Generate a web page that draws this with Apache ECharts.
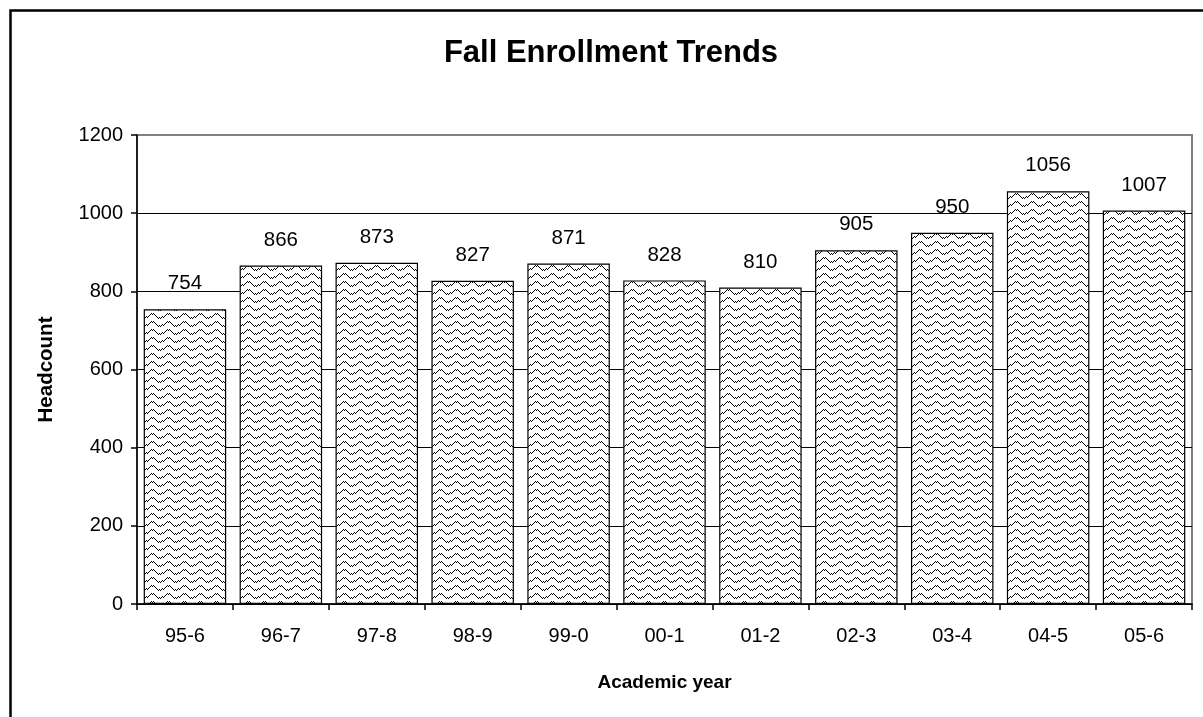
<!DOCTYPE html>
<html>
<head>
<meta charset="utf-8">
<script src="https://cdn.jsdelivr.net/npm/echarts@6/dist/echarts.min.js"></script>
<style>
html,body{margin:0;padding:0;background:#fff;}
#chart{width:1203px;height:717px;}
</style>
</head>
<body>
<div id="chart"></div>
<script>
const categories = ['95-6','96-7','97-8','98-9','99-0','00-1','01-2','02-3','03-4','04-5','05-6'];
const headcount = [754, 866, 873, 827, 871, 828, 810, 905, 950, 1056, 1007];
const yTicks = [0, 200, 400, 600, 800, 1000, 1200];

const FONT = '"Liberation Sans", Arial, sans-serif';

// wavy (dithered zigzag) pattern tile
function makePattern() {
  const c = document.createElement('canvas');
  c.width = 16; c.height = 8;
  const ctx = c.getContext('2d');
  ctx.fillStyle = '#fff';
  ctx.fillRect(0, 0, 16, 8);
  ctx.fillStyle = '#000';
  const ys = [5,5,4,4,3,2,1,1,1,1,2,3,4,4,5,5];
  for (let x = 0; x < 16; x++) {
    for (let d = 0; d < 2; d++) {
      const y = ys[x] + d;
      if ((x + y) % 2 === 0) ctx.fillRect(x, y, 1, 1);
    }
  }
  return c;
}

const chart = echarts.init(document.getElementById('chart'), null, {renderer: 'canvas'});
const splitColors = yTicks.map((v, i) => i === yTicks.length - 1 ? '#808080' : '#000');

chart.setOption({
  animation: false,
  backgroundColor: '#fff',
  title: {
    text: 'Fall Enrollment Trends',
    left: 606, top: 33, textAlign: 'center',
    textStyle: {fontFamily: FONT, fontSize: 31, fontWeight: 'bold', color: '#000'}
  },
  graphic: [{
    type: 'rect', left: 8, top: 8, silent: true,
    shape: {x: 0, y: 0, width: 1400, height: 900},
    style: {fill: 'none', stroke: '#000', lineWidth: 2.5}
  }],
  grid: {
    left: 137, right: 11, top: 135, bottom: 113,
    show: true, borderColor: '#808080', borderWidth: 2, backgroundColor: 'transparent'
  },
  xAxis: {
    type: 'category',
    data: categories,
    boundaryGap: true,
    name: 'Academic year',
    nameLocation: 'middle',
    nameGap: 69,
    nameTextStyle: {fontFamily: FONT, fontSize: 19, fontWeight: 'bold', color: '#000'},
    axisLine: {show: true, lineStyle: {color: '#000', width: 1.5}},
    axisTick: {show: true, alignWithLabel: false, length: 6, lineStyle: {color: '#000', width: 1.5}},
    axisLabel: {fontFamily: FONT, fontSize: 20, color: '#000', margin: 22},
    splitLine: {show: false}
  },
  yAxis: {
    type: 'value',
    min: 0, max: 1200, interval: 200,
    name: 'Headcount',
    nameLocation: 'middle',
    nameGap: 80,
    nameRotate: 90,
    nameTextStyle: {fontFamily: FONT, fontSize: 20.5, fontWeight: 'bold', color: '#000'},
    axisLine: {show: true, lineStyle: {color: '#000', width: 1.5}},
    axisTick: {show: true, length: 6, lineStyle: {color: '#000', width: 1.5}},
    axisLabel: {fontFamily: FONT, fontSize: 20, color: '#000', margin: 14, formatter: v => String(v)},
    splitLine: {show: true, lineStyle: {color: splitColors, width: 1.2}}
  },
  series: [{
    type: 'bar',
    data: headcount,
    barCategoryGap: '14%',
    itemStyle: {
      color: {image: makePattern(), repeat: 'repeat'},
      borderColor: '#000', borderWidth: 1.2
    },
    label: {
      show: true, position: 'top', distance: 15,
      fontFamily: FONT, fontSize: 20.5, color: '#000'
    }
  }]
});
</script>
</body>
</html>
